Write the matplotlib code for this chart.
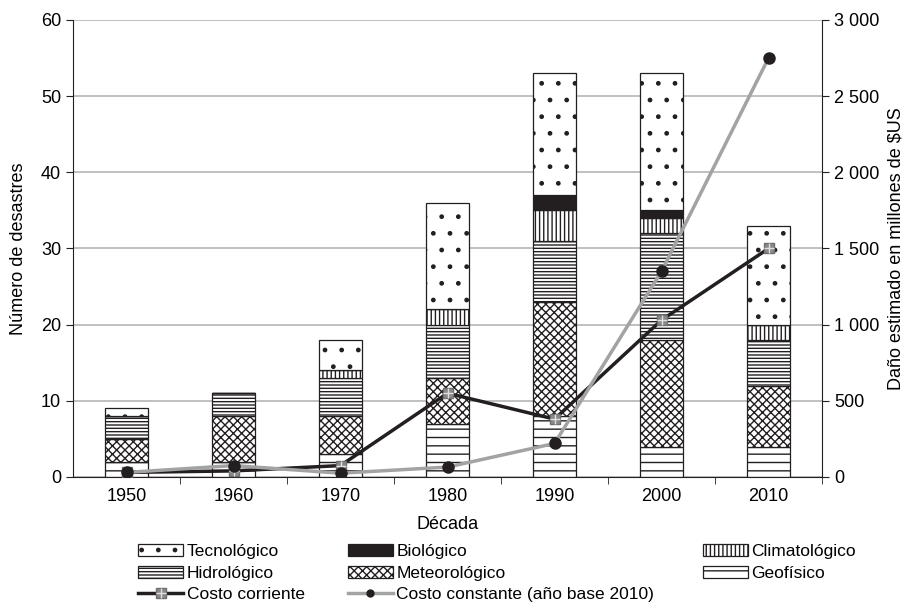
import matplotlib
matplotlib.use('Agg')
import matplotlib.pyplot as plt
from matplotlib.patches import Patch
from matplotlib.lines import Line2D

plt.rcParams['font.family'] = ['Liberation Sans', 'DejaVu Sans']
plt.rcParams['font.size'] = 13
plt.rcParams['hatch.linewidth'] = 1.0

# Datos
decadas = ['1950', '1960', '1970', '1980', '1990', '2000', '2010']
geofisico = [2, 2, 3, 7, 8, 4, 4]
meteorologico = [3, 6, 5, 6, 15, 14, 8]
hidrologico = [3, 3, 5, 7, 8, 14, 6]
climatologico = [0, 0, 1, 2, 4, 2, 2]
biologico = [0, 0, 0, 0, 2, 1, 0]
tecnologico = [1, 0, 4, 14, 16, 18, 13]

costo_corriente = [30, 40, 75, 550, 380, 1030, 1500]
costo_constante = [30, 75, 25, 65, 220, 1350, 2750]

y_ticks = [0, 10, 20, 30, 40, 50, 60]
y2_ticks = [0, 500, 1000, 1500, 2000, 2500, 3000]
y2_labels = ['0', '500', '1 000', '1 500', '2 000', '2 500', '3 000']

fig = plt.figure(figsize=(9.08, 6.15), dpi=100)
ax = fig.add_axes([0.0804, 0.2244, 0.8249, 0.7431])

x = list(range(len(decadas)))
ancho = 0.4

# series apiladas: (valores, etiqueta, color, hatch)
series = [
    (geofisico, 'Geofísico', 'white', '--'),
    (meteorologico, 'Meteorológico', 'white', 'xxxx'),
    (hidrologico, 'Hidrológico', 'white', '-----'),
    (climatologico, 'Climatológico', 'white', '||||'),
    (biologico, 'Biológico', '#231f20', None),
    (tecnologico, 'Tecnológico', 'white', '.'),
]

base = [0] * len(decadas)
patches = {}
for vals, lab, col, h in series:
    ax.bar(x, vals, ancho, bottom=base, color=col, edgecolor='#231f20',
           linewidth=0.9, hatch=h, zorder=2)
    patches[lab] = Patch(facecolor=col, edgecolor='#231f20', hatch=h, linewidth=0.9)
    base = [b + v for b, v in zip(base, vals)]

ax.set_xlim(-0.5, len(decadas) - 0.5)
ax.set_ylim(0, 60)
ax.set_yticks(y_ticks)
ax.set_xticks(x)
ax.set_xticklabels(decadas)
ax.set_xticks([i + 0.5 for i in x], minor=True)
ax.tick_params(axis='x', which='major', length=0, pad=8)
ax.tick_params(axis='x', which='minor', length=5, direction='out', color='#231f20')
ax.tick_params(axis='y', length=5, direction='out', color='#231f20')
ax.yaxis.grid(True, color='#b5b5b5', linewidth=1.2, zorder=0)
ax.set_axisbelow(True)
ax.spines['top'].set_visible(False)
ax.spines['right'].set_visible(False)
ax.spines['left'].set_color('#231f20')
ax.spines['bottom'].set_color('#231f20')
ax.set_ylabel('Número de desastres', labelpad=10)
ax.set_xlabel('Década', labelpad=8)

ax2 = ax.twinx()
ax2.set_ylim(0, 3000)
ax2.set_yticks(y2_ticks)
ax2.set_yticklabels(y2_labels)
ax2.tick_params(axis='y', length=5, direction='out', color='#231f20')
ax2.spines['top'].set_visible(False)
ax2.spines['left'].set_visible(False)
ax2.spines['bottom'].set_visible(False)
ax2.spines['right'].set_color('#231f20')
ax2.set_ylabel('Daño estimado en millones de $US', labelpad=6)

l1, = ax2.plot(x, costo_corriente, color='#231f20', linewidth=2.5,
               marker='s', markersize=7, markerfacecolor='#8a8a8a',
               markeredgecolor='#6e6e6e', zorder=3)
l1b, = ax2.plot(x, costo_corriente, linestyle='none', marker='+',
                markersize=7, markeredgecolor='#e0e0e0', markeredgewidth=1.0, zorder=4)
l2, = ax2.plot(x, costo_constante, color='#a3a3a3', linewidth=2.5,
               marker='o', markersize=8, markerfacecolor='#231f20',
               markeredgecolor='#231f20', zorder=5)
l2_leg = Line2D([], [], color='#a3a3a3', linewidth=2.5, marker='o', markersize=5,
                markerfacecolor='#231f20', markeredgecolor='#231f20')

leg_kw = dict(loc='upper left', frameon=False, fontsize=12.5, handlelength=2.6,
              handleheight=0.7, handletextpad=0.2, labelspacing=0.35,
              borderpad=0, borderaxespad=0)
fig.legend([patches['Tecnológico'], patches['Hidrológico'], (l1, l1b)],
           ['Tecnológico', 'Hidrológico', 'Costo corriente'],
           bbox_to_anchor=(0.152, 0.115), **leg_kw)
fig.legend([patches['Biológico'], patches['Meteorológico'], l2_leg],
           ['Biológico', 'Meteorológico', 'Costo constante (año base 2010)'],
           bbox_to_anchor=(0.383, 0.115), **leg_kw)
fig.legend([patches['Climatológico'], patches['Geofísico']],
           ['Climatológico', 'Geofísico'],
           bbox_to_anchor=(0.774, 0.115), **leg_kw)

fig.savefig('out.png', dpi=100)
